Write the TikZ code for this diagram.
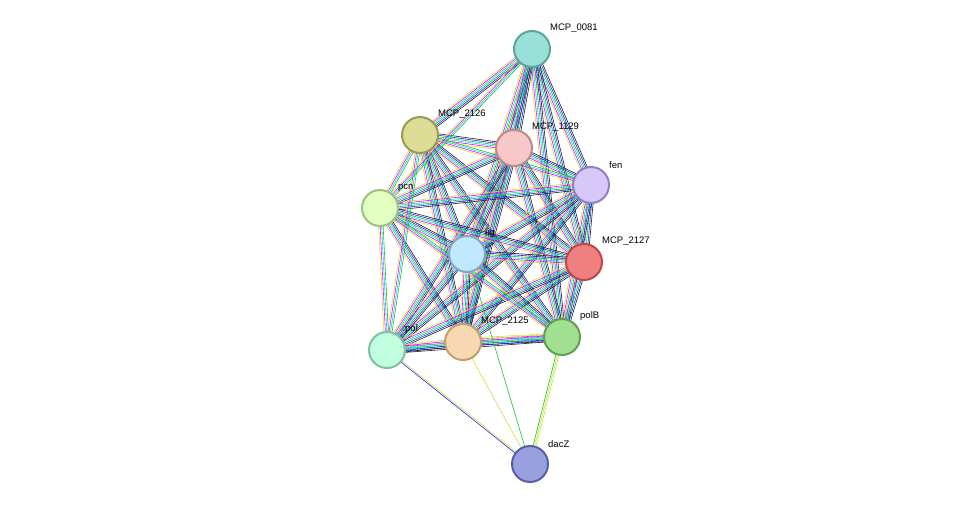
\documentclass[tikz,border=0pt]{standalone}
\usepackage{fontspec}
\setmainfont{Liberation Sans}
\usetikzlibrary{calc}
\definecolor{cT}{HTML}{C8E632}
\definecolor{cM}{HTML}{FF00FF}
\definecolor{cC}{HTML}{00D8FF}
\definecolor{cG}{HTML}{20C020}
\definecolor{cB}{HTML}{2020FF}
\definecolor{cK}{HTML}{202020}
\definecolor{cR}{HTML}{FF2020}
\definecolor{f1}{HTML}{99E0D8}\definecolor{d1}{HTML}{5AA59C}
\definecolor{f2}{HTML}{DCDC96}\definecolor{d2}{HTML}{9B9B55}
\definecolor{f3}{HTML}{F8C8C8}\definecolor{d3}{HTML}{C08888}
\definecolor{f4}{HTML}{D8C8F8}\definecolor{d4}{HTML}{9080C8}
\definecolor{f5}{HTML}{E0FFC0}\definecolor{d5}{HTML}{A0C080}
\definecolor{f6}{HTML}{C0E8FF}\definecolor{d6}{HTML}{80A8C0}
\definecolor{f7}{HTML}{F08080}\definecolor{d7}{HTML}{C04848}
\definecolor{f8}{HTML}{A0E090}\definecolor{d8}{HTML}{60A050}
\definecolor{f9}{HTML}{F8D8B0}\definecolor{d9}{HTML}{C0A070}
\definecolor{f10}{HTML}{C0FFE0}\definecolor{d10}{HTML}{80C0A0}
\definecolor{f11}{HTML}{98A0E0}\definecolor{d11}{HTML}{5860A8}
\newcommand\edge[4]{%
  \foreach \c [count=\i] in {#4}{%
    \pgfmathsetmacro\o{(\i-1)*1.5-(#3-1)*0.75}%
    \draw[line width=0.6pt,\c] ($(#1)!\o pt!90:(#2)$) -- ($(#2)!\o pt!-90:(#1)$);}}
\tikzset{prot/.style={circle,minimum size=36pt,inner sep=0pt,line width=2pt,fill=f#1,draw=d#1},
  lab/.style={anchor=south west,font=\fontsize{9.5}{10}\selectfont,inner sep=0pt}}
\begin{document}
\begin{tikzpicture}[x=1pt,y=-1pt]
\useasboundingbox[fill=white] (0,0) rectangle (976,510);
\coordinate (n0081) at (532,49);
\coordinate (n2126) at (420,135);
\coordinate (n1129) at (514,148);
\coordinate (fen) at (591,185);
\coordinate (pcn) at (380,208);
\coordinate (lig) at (467,254);
\coordinate (n2127) at (584,262);
\coordinate (polB) at (562,337);
\coordinate (n2125) at (463,342);
\coordinate (pol) at (387,350);
\coordinate (dacZ) at (530,464);
\foreach \a/\b in {n0081/n2126,n0081/n1129,n0081/fen,n0081/lig,n0081/n2127,n0081/polB,n0081/n2125,
  n2126/n1129,n2126/lig,n2126/n2127,n2126/polB,n2126/n2125,
  n1129/fen,n1129/pcn,n1129/lig,n1129/n2127,n1129/polB,n1129/n2125,n1129/pol,
  fen/pcn,fen/lig,fen/n2127,fen/polB,fen/n2125,fen/pol,
  pcn/lig,pcn/n2127,pcn/n2125,
  lig/n2127,lig/polB,lig/n2125,lig/pol,
  n2127/polB,n2127/n2125,n2127/pol,polB/n2125,polB/pol,n2125/pol}
  {\edge{\a}{\b}{6}{cT,cM,cC,cG,cB,cK}}
\foreach \a/\b in {n2126/fen,n2126/pcn,n2126/pol,pcn/polB,pcn/pol,n0081/pcn}
  {\edge{\a}{\b}{4}{cT,cM,cC,cG}}
\edge{pol}{dacZ}{2}{cB,cT}
\edge{n2125}{dacZ}{1}{cT}
\edge{lig}{dacZ}{1}{cG}
\edge{polB}{dacZ}{3}{cG,cT,cT}
\foreach \p/\k in {n0081/1,n2126/2,n1129/3,fen/4,pcn/5,lig/6,n2127/7,polB/8,n2125/9,pol/10,dacZ/11}
  \node[prot=\k] (N\p) at (\p) {};
\foreach \p/\t in {n0081/MCP\_0081,n2126/MCP\_2126,n1129/MCP\_1129,fen/fen,pcn/pcn,lig/lig,n2127/MCP\_2127,polB/polB,n2125/MCP\_2125,pol/pol,dacZ/dacZ}
  \node[lab] at ($(\p)+(18,-16)$) {\t};
\end{tikzpicture}
\end{document}
